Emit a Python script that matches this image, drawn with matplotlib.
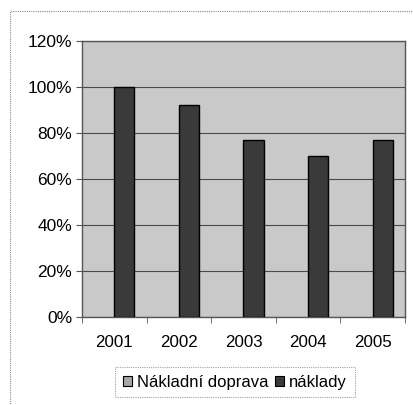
import numpy as np
import matplotlib.pyplot as plt
from matplotlib.patches import Patch, Rectangle
from matplotlib.ticker import PercentFormatter

plt.rcParams['font.family'] = ['Liberation Sans', 'DejaVu Sans']

roky = ['2001', '2002', '2003', '2004', '2005']
naklady = [100, 92, 77, 70, 77]
serie = ['Nákladní doprava', 'náklady']

fig = plt.figure(figsize=(4.13, 4.05), dpi=100)
fig.patch.set_facecolor('white')

# dotted outer frame of the chart (clipped at right and bottom in the scan)
fig.patches.append(Rectangle((10 / 413, -0.01), 1.0, 1 - 11 / 405 + 0.01,
                             transform=fig.transFigure, fill=False,
                             edgecolor='#8a8a8a', linewidth=0.8,
                             linestyle=(0, (1, 1))))

ax = fig.add_axes([82 / 413, 1 - 317 / 405, 323 / 413, 276 / 405])
ax.set_facecolor('#c9c9c9')

x = np.arange(len(roky))
sirka = 0.31
ax.bar(x + sirka / 2, naklady, width=sirka, color='#3a3a3a',
       edgecolor='black', linewidth=1.0, zorder=3)

ax.set_ylim(0, 120)
ax.set_xlim(-0.5, len(roky) - 0.5)
ax.set_yticks(np.arange(0, 121, 20))
ax.yaxis.set_major_formatter(PercentFormatter(decimals=0))
ax.grid(axis='y', color='#4a4a4a', linewidth=0.8, zorder=1)

ax.set_xticks(x)
ax.set_xticklabels(roky)
ax.set_xticks(np.arange(-0.5, len(roky), 1), minor=True)
ax.tick_params(axis='x', which='major', length=0, pad=13, labelsize=12.2)
ax.tick_params(axis='x', which='minor', length=4, color='#555555')
ax.tick_params(axis='y', length=4, color='#555555', labelsize=12.5, pad=3)

for s in ax.spines.values():
    s.set_color('#555555')
    s.set_linewidth(1.0)

handles = [Patch(facecolor='#a8a8a8', edgecolor='black', linewidth=0.8),
           Patch(facecolor='#3a3a3a', edgecolor='black', linewidth=0.8)]
leg = fig.legend(handles, serie, loc='center', ncol=2,
                 bbox_to_anchor=(235 / 413, 1 - 382 / 405),
                 fontsize=12, frameon=True, fancybox=False,
                 handlelength=0.55, handleheight=0.55, handletextpad=0.3,
                 columnspacing=0.4, borderpad=0.45, borderaxespad=0)
leg.get_frame().set_edgecolor('#8a8a8a')
leg.get_frame().set_linestyle((0, (1, 1)))
leg.get_frame().set_linewidth(0.8)

plt.savefig('out.png', dpi=100)
